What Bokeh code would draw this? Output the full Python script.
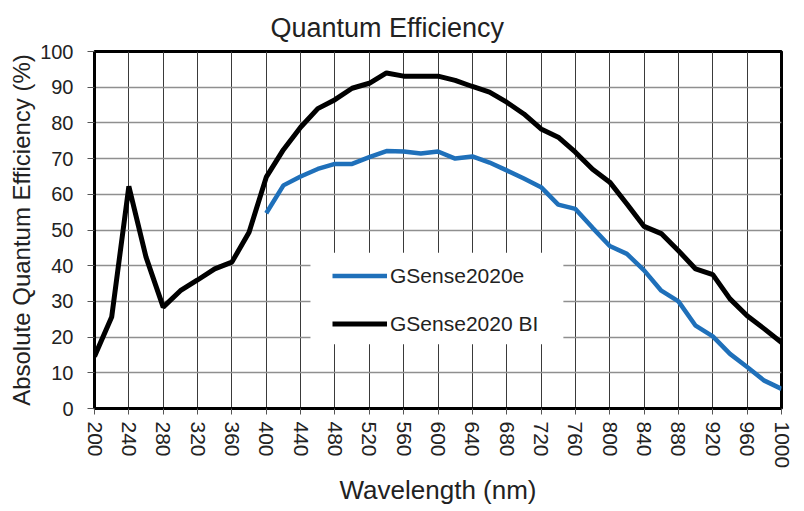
import math
from bokeh.plotting import figure
from bokeh.models import (Range1d, FixedTicker, Legend, LegendItem,
                          BoxAnnotation, ColumnDataSource)
from bokeh.embed import file_html
from bokeh.resources import INLINE

# ---- data ----
wl_bi = [200, 220, 240, 260, 280, 300, 320, 340, 360, 380,
         400, 420, 440, 460, 480, 500, 520, 540, 560, 580,
         600, 620, 640, 660, 680, 700, 720, 740, 760, 780,
         800, 820, 840, 860, 880, 900, 920, 940, 960, 980, 1000]
qe_bi = [14.6, 25.6, 62.2, 42.4, 28.4, 33.0, 36.0, 39.1, 41.0, 49.4,
         64.8, 72.5, 78.8, 84.0, 86.5, 89.7, 91.1, 94.0, 93.1, 93.1,
         93.1, 91.9, 90.2, 88.6, 85.8, 82.5, 78.3, 76.0, 71.8, 67.0,
         63.4, 57.3, 51.0, 49.0, 44.2, 39.1, 37.5, 30.7, 26.0, 22.3, 18.5]

wl_e = [400, 420, 440, 460, 480, 500, 520, 540, 560, 580,
        600, 620, 640, 660, 680, 700, 720, 740, 760, 780,
        800, 820, 840, 860, 880, 900, 920, 940, 960, 980, 1000]
qe_e = [54.7, 62.5, 65.0, 67.1, 68.5, 68.5, 70.4, 72.1, 72.0, 71.4,
        72.0, 70.0, 70.6, 68.9, 66.7, 64.4, 62.0, 57.1, 55.9, 50.6,
        45.5, 43.3, 38.7, 33.0, 30.0, 23.2, 20.2, 15.3, 11.6, 7.8, 5.5]

x_ticks = [200, 240, 280, 320, 360, 400, 440, 480, 520, 560, 600,
           640, 680, 720, 760, 800, 840, 880, 920, 960, 1000]
y_ticks = [0, 10, 20, 30, 40, 50, 60, 70, 80, 90, 100]

series_names = ["GSense2020e", "GSense2020 BI"]
title_text = "Quantum Efficiency"
x_label = "Wavelength (nm)"
y_label = "Absolute Quantum Efficiency (%)"

FONT = "Liberation Sans"
TXT = "#222222"
BLUE = "#1f70ba"

p = figure(width=800, height=508, output_backend="svg", toolbar_location=None,
           x_range=Range1d(200, 1000), y_range=Range1d(0, 100),
           min_border_left=94, min_border_right=19, min_border_top=51,
           min_border_bottom=99)
p.background_fill_color = "white"
p.border_fill_color = "white"
p.outline_line_color = "black"
p.outline_line_width = 3

p.title.text = title_text
p.title.align = "left"
p.title.offset = 176
p.title.vertical_align = "top"
p.title.standoff = 14
p.title.text_font = FONT
p.title.text_font_size = "27px"
p.title.text_font_style = "normal"
p.title.text_color = TXT

# grids
p.xgrid.ticker = FixedTicker(ticks=x_ticks)
p.ygrid.ticker = FixedTicker(ticks=y_ticks)
p.xgrid.grid_line_color = "#3a3a3a"
p.xgrid.grid_line_width = 1
p.ygrid.grid_line_color = "#8f8f8f"
p.ygrid.grid_line_width = 1.6

# axes
for ax in (p.xaxis[0], p.yaxis[0]):
    ax.axis_line_color = "black"
    ax.axis_line_width = 3
    ax.major_tick_line_color = "#555555"
    ax.major_tick_line_width = 1
    ax.major_tick_in = 0
    ax.minor_tick_line_color = None
    ax.major_label_text_font = FONT
    ax.major_label_text_color = TXT
    ax.axis_label_text_font = FONT
    ax.axis_label_text_color = TXT
    ax.axis_label_text_font_style = "normal"

p.xaxis.ticker = FixedTicker(ticks=x_ticks)
p.xaxis.major_tick_out = 6
p.xaxis.major_label_orientation = -math.pi / 2
p.xaxis.major_label_text_font_size = "21px"
p.xaxis.major_label_standoff = 7
p.xaxis.axis_label = x_label
p.xaxis.axis_label_text_font_size = "26px"
p.xaxis.axis_label_standoff = 4

p.yaxis.ticker = FixedTicker(ticks=y_ticks)
p.yaxis.major_tick_out = 7
p.yaxis.major_label_text_font_size = "20px"
p.yaxis.major_label_standoff = 14
p.yaxis.axis_label = y_label
p.yaxis.axis_label_text_font_size = "24px"
p.yaxis.axis_label_standoff = 2

# white backing behind the legend (hides the grid there)
p.add_layout(BoxAnnotation(left=451.5, right=746, bottom=18, top=43.6,
                           fill_color="white", fill_alpha=1.0,
                           line_color=None, level="underlay"))

src_e = ColumnDataSource(dict(x=wl_e, y=qe_e))
src_bi = ColumnDataSource(dict(x=wl_bi, y=qe_bi))
r_bi = p.line("x", "y", source=src_bi, line_color="black", line_width=5)
r_e = p.line("x", "y", source=src_e, line_color=BLUE, line_width=4.5)

legend = Legend(items=[LegendItem(label=series_names[0], renderers=[r_e]),
                       LegendItem(label=series_names[1], renderers=[r_bi])],
                location=(238, 72), padding=10, spacing=23,
                glyph_width=55, glyph_height=25, label_height=25,
                label_standoff=3, margin=0,
                label_text_font=FONT, label_text_font_size="21px",
                label_text_color=TXT,
                background_fill_alpha=0, border_line_color=None)
p.add_layout(legend)

open("out.html", "w").write(file_html(p, INLINE))
